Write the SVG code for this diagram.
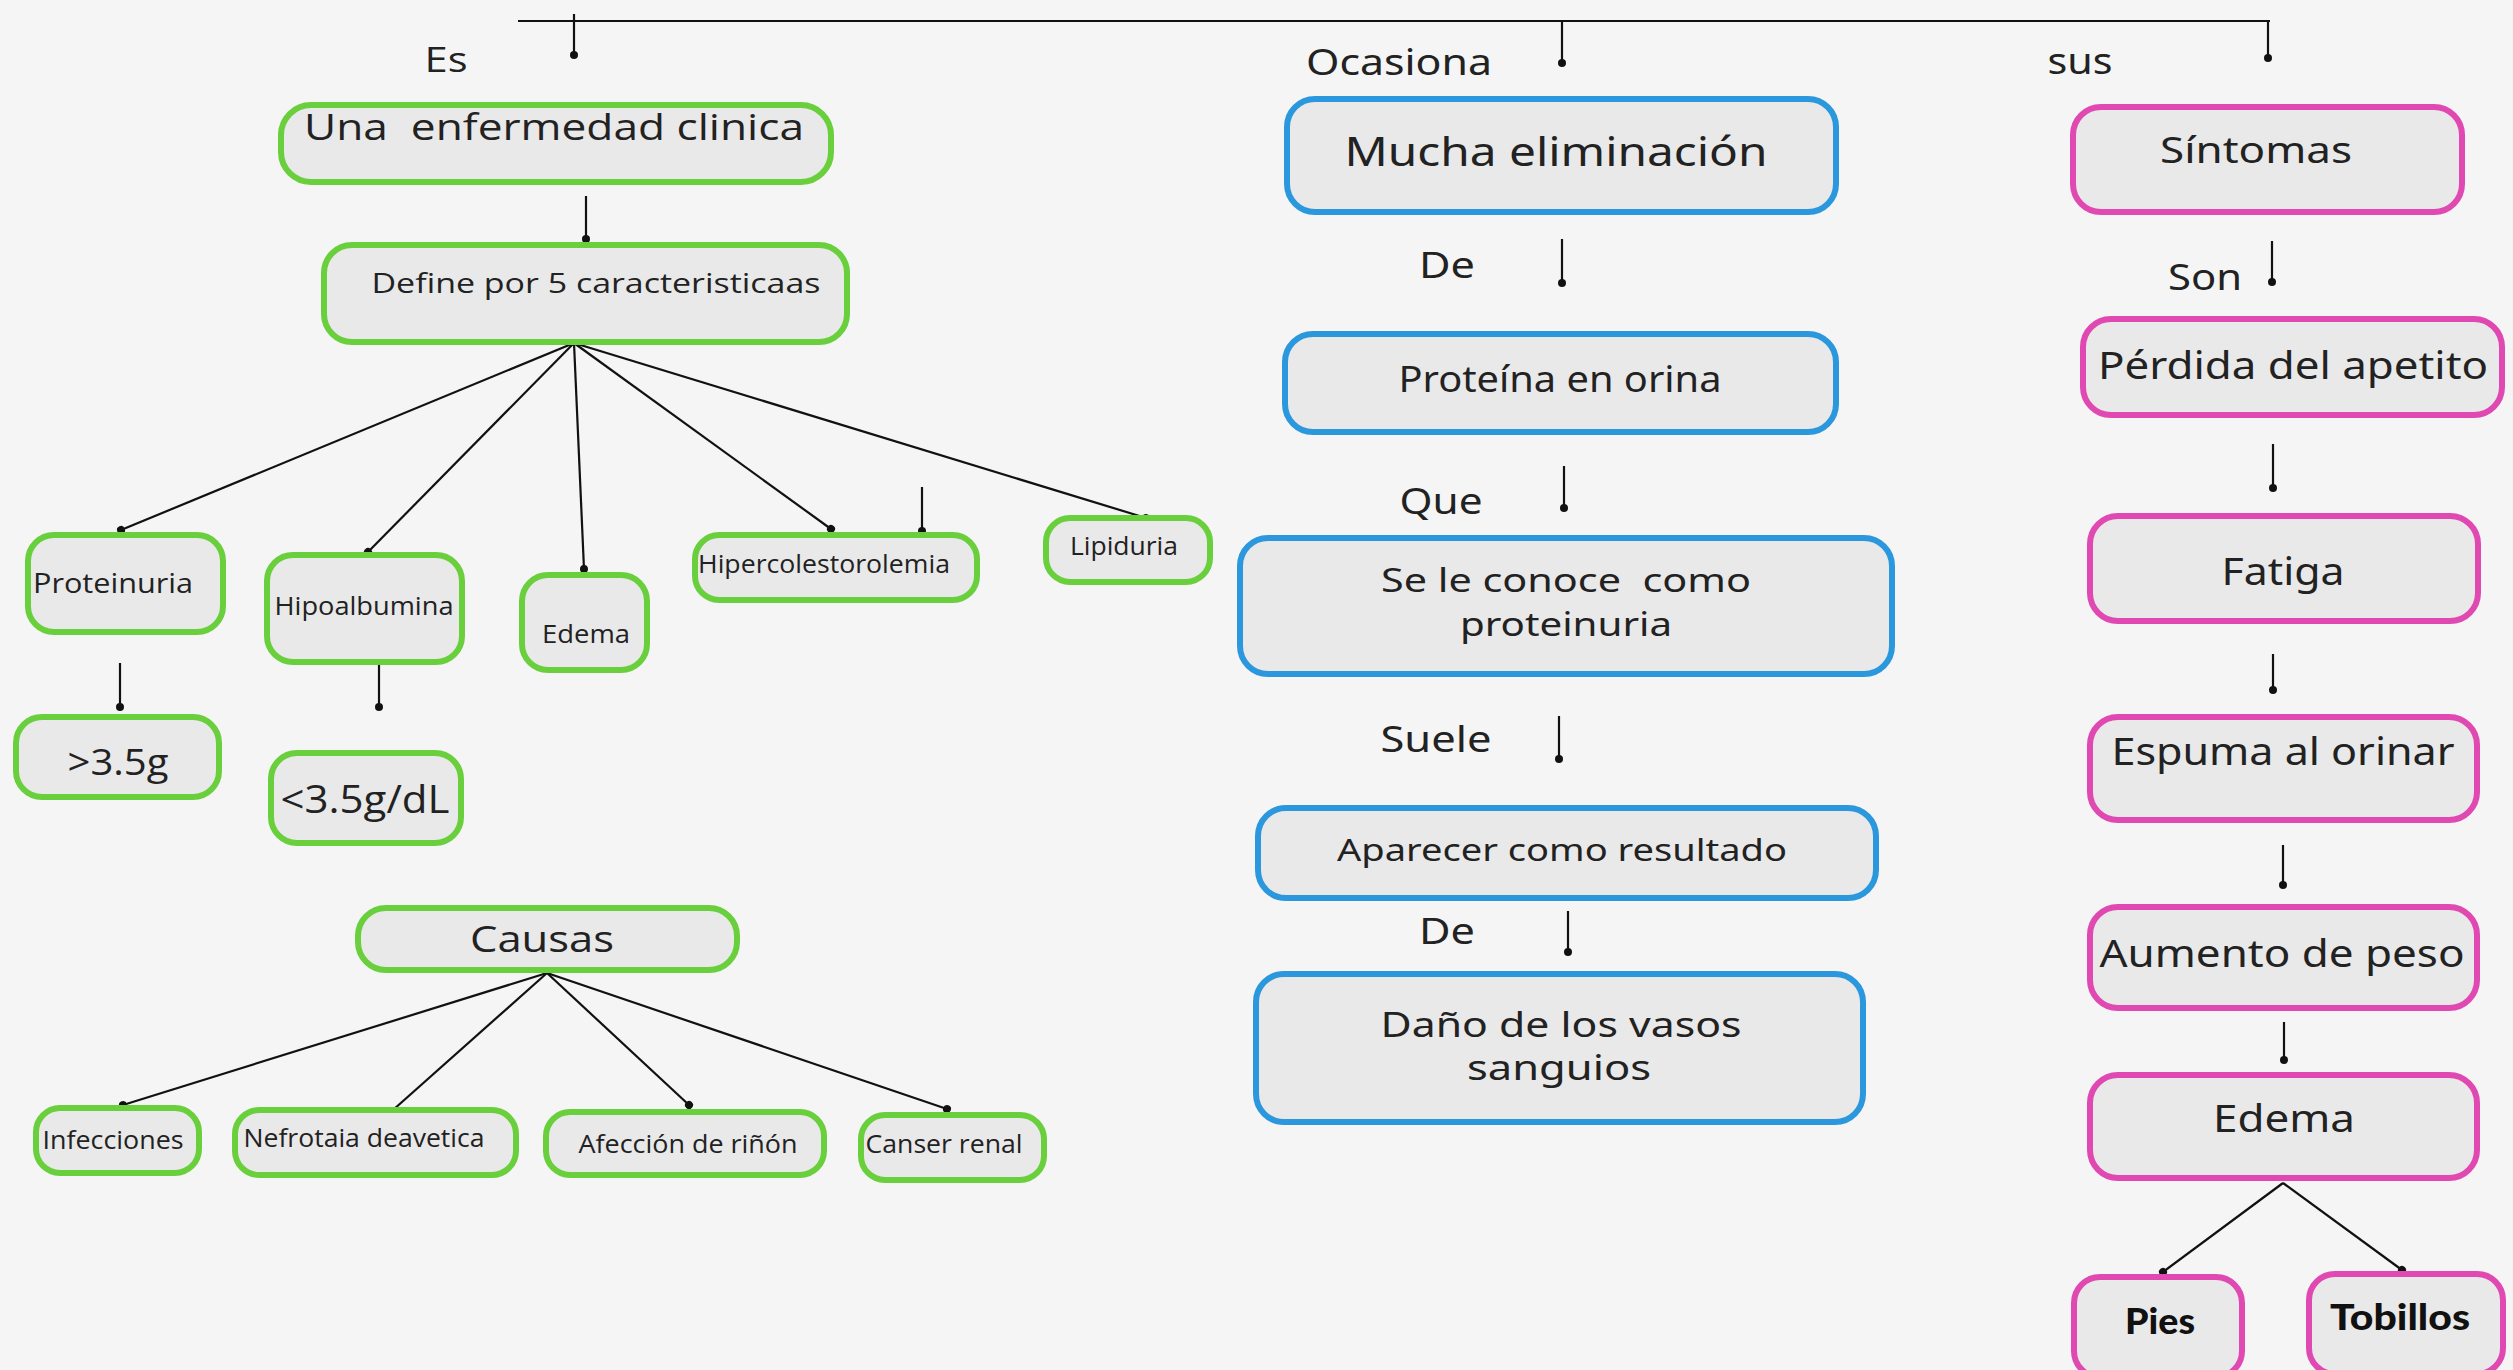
<svg xmlns="http://www.w3.org/2000/svg" width="2513" height="1370" viewBox="0 0 2513 1370">
<defs>
<marker id="dot" viewBox="-5 -5 10 10" markerWidth="10" markerHeight="10" markerUnits="userSpaceOnUse" refX="0" refY="0" orient="auto">
<circle cx="0" cy="0" r="4" fill="#111"/>
</marker>
<style>
.g{fill:#e9e9e9;stroke:#69cf3c;stroke-width:6}
.b{fill:#e9e9e9;stroke:#2b97dd;stroke-width:6}
.p{fill:#e9e9e9;stroke:#df49b1;stroke-width:6}
.c line,.c path{stroke:#111;stroke-width:2.2;fill:none;marker-end:url(#dot)}
.tl{font-family:"Open Sans","DejaVu Sans",sans-serif;fill:#222;text-anchor:middle}
.tm{font-family:"Noto Sans","DejaVu Sans",sans-serif;fill:#222;text-anchor:middle}
.tb{font-family:Lato,"Open Sans",sans-serif;font-weight:900;fill:#111;text-anchor:middle}
</style>
</defs>
<rect width="2513" height="1370" fill="#f5f5f5"/>

<g id="connectors" class="c">
<line x1="518" y1="21" x2="2270" y2="21" style="marker-end:none"/>
<line x1="574" y1="14" x2="574" y2="55"/>
<line x1="1562" y1="21" x2="1562" y2="63"/>
<line x1="2268" y1="21" x2="2268" y2="58"/>
<line x1="586" y1="196" x2="586" y2="239"/>
<line x1="574" y1="343" x2="121" y2="530"/>
<line x1="574" y1="343" x2="368" y2="552"/>
<line x1="574" y1="343" x2="584" y2="569"/>
<line x1="574" y1="343" x2="831" y2="529"/>
<line x1="574" y1="343" x2="1146" y2="518"/>
<line x1="922" y1="487" x2="922" y2="531"/>
<line x1="120" y1="663" x2="120" y2="707"/>
<line x1="379" y1="665" x2="379" y2="707"/>
<line x1="547" y1="973" x2="123" y2="1105"/>
<line x1="547" y1="973" x2="384" y2="1118"/>
<line x1="547" y1="973" x2="689" y2="1105"/>
<line x1="547" y1="973" x2="947" y2="1109"/>
<line x1="1562" y1="239" x2="1562" y2="283"/>
<line x1="1564" y1="466" x2="1564" y2="508"/>
<line x1="1559" y1="716" x2="1559" y2="759"/>
<line x1="1568" y1="911" x2="1568" y2="952"/>
<line x1="2272" y1="241" x2="2272" y2="282"/>
<line x1="2273" y1="444" x2="2273" y2="488"/>
<line x1="2273" y1="654" x2="2273" y2="690"/>
<line x1="2283" y1="845" x2="2283" y2="885"/>
<line x1="2284" y1="1022" x2="2284" y2="1060"/>
<line x1="2283" y1="1183" x2="2163" y2="1272"/>
<line x1="2283" y1="1183" x2="2402" y2="1270"/>
</g>

<g id="labels">
<text class="tl" x="446" y="72" font-size="34" textLength="43" lengthAdjust="spacingAndGlyphs">Es</text>
<text class="tm" x="1399" y="75" font-size="37" textLength="186" lengthAdjust="spacingAndGlyphs">Ocasiona</text>
<text class="tm" x="2080" y="74" font-size="37" textLength="65" lengthAdjust="spacingAndGlyphs">sus</text>
<text class="tm" x="1447" y="278" font-size="37" textLength="56" lengthAdjust="spacingAndGlyphs">De</text>
<text class="tm" x="1441" y="514" font-size="37" textLength="83" lengthAdjust="spacingAndGlyphs">Que</text>
<text class="tm" x="1436" y="752" font-size="37" textLength="111" lengthAdjust="spacingAndGlyphs">Suele</text>
<text class="tm" x="1447" y="944" font-size="37" textLength="56" lengthAdjust="spacingAndGlyphs">De</text>
<text class="tm" x="2205" y="290" font-size="37" textLength="74" lengthAdjust="spacingAndGlyphs">Son</text>
</g>

<g id="n-una"><rect class="g" x="281" y="105" width="550" height="77" rx="30"/><text class="tl" x="554" y="140" font-size="37" textLength="500" lengthAdjust="spacingAndGlyphs" xml:space="preserve">Una  enfermedad clinica</text></g>
<g id="n-define"><rect class="g" x="324" y="245" width="523" height="97" rx="28"/><text class="tl" x="596" y="293" font-size="28" textLength="449" lengthAdjust="spacingAndGlyphs">Define por 5 caracteristicaas</text></g>
<g id="n-proteinuria"><rect class="g" x="28" y="535" width="195" height="97" rx="26"/><text class="tl" x="113" y="593" font-size="27" textLength="160" lengthAdjust="spacingAndGlyphs">Proteinuria</text></g>
<g id="n-hipoalbumina"><rect class="g" x="267" y="555" width="195" height="107" rx="26"/><text class="tl" x="364" y="615" font-size="25" textLength="179" lengthAdjust="spacingAndGlyphs">Hipoalbumina</text></g>
<g id="n-edema-l"><rect class="g" x="522" y="575" width="125" height="95" rx="26"/><text class="tl" x="586" y="643" font-size="25" textLength="88" lengthAdjust="spacingAndGlyphs">Edema</text></g>
<g id="n-hiperc"><rect class="g" x="695" y="535" width="282" height="65" rx="24"/><text class="tl" x="824" y="573" font-size="25" textLength="252" lengthAdjust="spacingAndGlyphs">Hipercolestorolemia</text></g>
<g id="n-lipiduria"><rect class="g" x="1046" y="518" width="164" height="64" rx="24"/><text class="tl" x="1124" y="555" font-size="25" textLength="108" lengthAdjust="spacingAndGlyphs">Lipiduria</text></g>
<g id="n-gt35"><rect class="g" x="16" y="717" width="203" height="80" rx="26"/><text class="tl" x="118" y="775" font-size="36" textLength="101" lengthAdjust="spacingAndGlyphs">&gt;3.5g</text></g>
<g id="n-lt35"><rect class="g" x="271" y="753" width="190" height="90" rx="26"/><text class="tl" x="365" y="813" font-size="38" textLength="169" lengthAdjust="spacingAndGlyphs">&lt;3.5g/dL</text></g>
<g id="n-causas"><rect class="g" x="358" y="908" width="379" height="62" rx="28"/><text class="tl" x="542" y="952" font-size="37" textLength="144" lengthAdjust="spacingAndGlyphs">Causas</text></g>
<g id="n-infecciones"><rect class="g" x="36" y="1108" width="163" height="65" rx="24"/><text class="tl" x="113" y="1149" font-size="25" textLength="141" lengthAdjust="spacingAndGlyphs">Infecciones</text></g>
<g id="n-nefrotaia"><rect class="g" x="235" y="1110" width="281" height="65" rx="24"/><text class="tl" x="364" y="1147" font-size="25" textLength="241" lengthAdjust="spacingAndGlyphs">Nefrotaia deavetica</text></g>
<g id="n-afeccion"><rect class="g" x="546" y="1112" width="278" height="63" rx="24"/><text class="tl" x="688" y="1153" font-size="25" textLength="219" lengthAdjust="spacingAndGlyphs">Afección de riñón</text></g>
<g id="n-canser"><rect class="g" x="861" y="1115" width="183" height="65" rx="24"/><text class="tl" x="944" y="1153" font-size="25" textLength="157" lengthAdjust="spacingAndGlyphs">Canser renal</text></g>

<g id="n-mucha"><rect class="b" x="1287" y="99" width="549" height="113" rx="28"/><text class="tm" x="1556" y="166" font-size="40" textLength="423" lengthAdjust="spacingAndGlyphs">Mucha eliminación</text></g>
<g id="n-proteina"><rect class="b" x="1285" y="334" width="551" height="98" rx="28"/><text class="tm" x="1560" y="392" font-size="36" textLength="323" lengthAdjust="spacingAndGlyphs">Proteína en orina</text></g>
<g id="n-conoce"><rect class="b" x="1240" y="538" width="652" height="136" rx="28"/><text class="tm" x="1566" y="592" font-size="33" textLength="370" lengthAdjust="spacingAndGlyphs" xml:space="preserve">Se le conoce  como</text><text class="tm" x="1566" y="636" font-size="33" textLength="212" lengthAdjust="spacingAndGlyphs">proteinuria</text></g>
<g id="n-aparecer"><rect class="b" x="1258" y="808" width="618" height="90" rx="28"/><text class="tm" x="1562" y="861" font-size="31" textLength="450" lengthAdjust="spacingAndGlyphs">Aparecer como resultado</text></g>
<g id="n-dano"><rect class="b" x="1256" y="974" width="607" height="148" rx="28"/><text class="tm" x="1561" y="1037" font-size="35" textLength="361" lengthAdjust="spacingAndGlyphs">Daño de los vasos</text><text class="tm" x="1559" y="1080" font-size="35" textLength="184" lengthAdjust="spacingAndGlyphs">sanguios</text></g>

<g id="n-sintomas"><rect class="p" x="2073" y="107" width="389" height="105" rx="28"/><text class="tm" x="2256" y="163" font-size="37" textLength="192" lengthAdjust="spacingAndGlyphs">Síntomas</text></g>
<g id="n-perdida"><rect class="p" x="2083" y="319" width="419" height="96" rx="28"/><text class="tm" x="2293" y="379" font-size="38" textLength="390" lengthAdjust="spacingAndGlyphs">Pérdida del apetito</text></g>
<g id="n-fatiga"><rect class="p" x="2090" y="516" width="388" height="105" rx="28"/><text class="tm" x="2283" y="585" font-size="38" textLength="123" lengthAdjust="spacingAndGlyphs">Fatiga</text></g>
<g id="n-espuma"><rect class="p" x="2090" y="717" width="387" height="103" rx="28"/><text class="tm" x="2283" y="765" font-size="38" textLength="343" lengthAdjust="spacingAndGlyphs">Espuma al orinar</text></g>
<g id="n-aumento"><rect class="p" x="2090" y="907" width="387" height="101" rx="28"/><text class="tm" x="2282" y="967" font-size="38" textLength="365" lengthAdjust="spacingAndGlyphs">Aumento de peso</text></g>
<g id="n-edema-r"><rect class="p" x="2090" y="1075" width="387" height="103" rx="28"/><text class="tm" x="2284" y="1132" font-size="38" textLength="142" lengthAdjust="spacingAndGlyphs">Edema</text></g>
<g id="n-pies"><rect class="p" x="2074" y="1277" width="168" height="100" rx="26"/><text class="tb" x="2160" y="1334" font-size="36" textLength="70" lengthAdjust="spacingAndGlyphs">Pies</text></g>
<g id="n-tobillos"><rect class="p" x="2309" y="1274" width="194" height="100" rx="26"/><text class="tb" x="2400" y="1330" font-size="36" textLength="140" lengthAdjust="spacingAndGlyphs">Tobillos</text></g>
</svg>
